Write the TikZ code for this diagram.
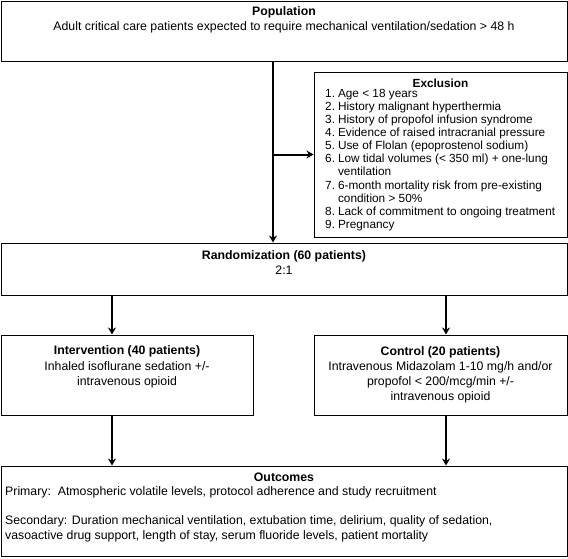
\documentclass[tikz,border=0pt]{standalone}
\usepackage{fontspec}
\setmainfont{Liberation Sans}
\usetikzlibrary{arrows.meta}
\begin{document}
\begin{tikzpicture}[x=1pt,y=-1pt,
    box/.style={draw, line width=1pt, inner sep=0pt},
    txt/.style={align=center, inner sep=0pt, font=\fontsize{12.3}{15.2}\selectfont},
    lst/.style={align=left, inner sep=0pt, font=\fontsize{11.8}{13.1}\selectfont},
    arr/.style={line width=2pt, -{Stealth[length=7pt,width=8pt]}}]
    \useasboundingbox (0,0) rectangle (568,558);

    % boxes
    \node[box, minimum width=566pt, minimum height=60pt] (pop) at (284,31) {};
    \node[box, minimum width=253pt, minimum height=165pt] (excl) at (440.5,154.5) {};
    \node[box, minimum width=566pt, minimum height=52pt] (rand) at (284,269) {};
    \node[box, minimum width=252pt, minimum height=80pt] (interv) at (127,375) {};
    \node[box, minimum width=253pt, minimum height=80pt] (ctrl) at (440.5,375) {};
    \node[box, minimum width=566pt, minimum height=90pt] (outc) at (284,511) {};

    % texts
    \node[txt] (poptxt) at (284,20) {\textbf{Population}\\Adult critical care patients expected to require mechanical ventilation/sedation > 48 h};
    \node[txt, font=\fontsize{11.8}{13.1}\selectfont] (excltitle) at (440.5,83) {\textbf{Exclusion}};
    \node[lst, anchor=north west] (excllist) at (325,88) {%
        \begin{tabular}{@{}r@{\hspace{3pt}}l@{}}
        1. & Age < 18 years\\
        2. & History malignant hyperthermia\\
        3. & History of propofol infusion syndrome\\
        4. & Evidence of raised intracranial pressure\\
        5. & Use of Flolan (epoprostenol sodium)\\
        6. & Low tidal volumes (< 350 ml) + one-lung\\
           & ventilation\\
        7. & 6-month mortality risk from pre-existing\\
           & condition > 50\%\\
        8. & Lack of commitment to ongoing treatment\\
        9. & Pregnancy
        \end{tabular}};
    \node[txt] (randtxt) at (284,262.5) {\textbf{Randomization (60 patients)}\\2:1};
    \node[txt] (intvtxt) at (127,367) {\textbf{Intervention (40 patients)}\\Inhaled isoflurane sedation +/-\\intravenous opioid};
    \node[txt] (ctrltxt) at (440.5,375) {\textbf{Control (20 patients)}\\Intravenous Midazolam 1-10 mg/h and/or\\propofol < 200/mcg/min +/-\\intravenous opioid};
    \node[txt] (outctitle) at (284,477) {\textbf{Outcomes}};
    \node[txt, align=left, anchor=north west] (outctxt) at (5,486) {Primary:\ \ Atmospheric volatile levels, protocol adherence and study recruitment\\[14pt]
        Secondary: Duration mechanical ventilation, extubation time, delirium, quality of sedation,\\
        vasoactive drug support, length of stay, serum fluoride levels, patient mortality};

    % arrows
    \coordinate (lft) at (112,0);
    \coordinate (rgt) at (446,0);
    \draw[arr] ([xshift=-11pt]pop.south) -- ([xshift=-11pt]rand.north);
    \draw[arr] ([xshift=-11pt]pop.south |- excl.west) -- (excl.west);
    \draw[arr] (rand.south -| lft) -- (interv.north -| lft);
    \draw[arr] (rand.south -| rgt) -- (ctrl.north -| rgt);
    \draw[arr] (interv.south -| lft) -- (outc.north -| lft);
    \draw[arr] (ctrl.south -| rgt) -- (outc.north -| rgt);

\end{tikzpicture}
\end{document}
